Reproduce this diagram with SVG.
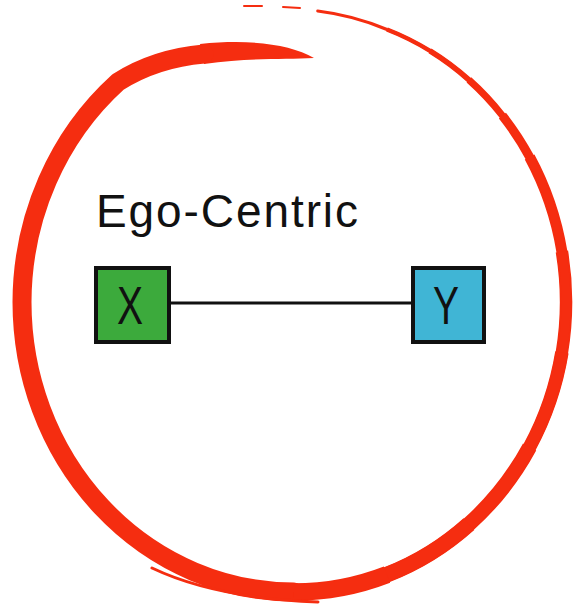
<svg xmlns="http://www.w3.org/2000/svg" width="573" height="608" viewBox="0 0 573 608">
  <style>
    .brush { fill: none; stroke: #f52d10; stroke-linecap: butt; stroke-linejoin: round; }
    .round { stroke-linecap: round; }
    .box { stroke: #111; stroke-width: 4; }
    .lbl { font-family: "Liberation Sans", Arial, sans-serif; fill: #111; }
  </style>
  <defs>
    <path id="r1" d="M294,592 A272,290 0 0 0 387,574.6"/>
  </defs>
  <rect width="573" height="608" fill="#ffffff"/>
  <g id="circle">
    <path d="M314,58 C290,44 250,39 200,44 L204,64 C250,57 285,60 314,58 Z" fill="#f52d10"/>
    <path class="brush round" stroke-width="19" d="M204,54 C170,57 140,68 118,82 A272,290 0 0 0 22,302 A272,290 0 0 0 294,592"/>
    <path class="brush" stroke-width="17.5" d="M288,592 L294,592 A272,290 0 0 0 387,574.6"/>
    <path class="brush" stroke-width="16" d="M294,592 A272,290 0 0 0 387,574.6 A272,290 0 0 0 468.9,524.1"/>
    <path class="brush" stroke-width="15" d="M294,592 A272,290 0 0 0 387,574.6 A272,290 0 0 0 468.9,524.1 A272,290 0 0 0 529.6,447"/>
    <path class="brush" stroke-width="13.5" d="M387,574.6 A272,290 0 0 0 468.9,524.1 A272,290 0 0 0 529.6,447 A272,290 0 0 0 561.9,352.4"/>
    <path class="brush" stroke-width="12.5" d="M468.9,524.1 A272,290 0 0 0 529.6,447 A272,290 0 0 0 561.9,352.4 A272,290 0 0 0 561.9,251.6"/>
    <path class="brush" stroke-width="11" d="M529.6,447 A272,290 0 0 0 561.9,352.4 A272,290 0 0 0 561.9,251.6 A272,290 0 0 0 529.6,157"/>
    <path class="brush" stroke-width="9" d="M561.9,352.4 A272,290 0 0 0 561.9,251.6 A272,290 0 0 0 529.6,157 A272,290 0 0 0 502.4,115.6"/>
    <path class="brush" stroke-width="7" d="M561.9,251.6 A272,290 0 0 0 529.6,157 A272,290 0 0 0 502.4,115.6 A272,290 0 0 0 468.9,79.9"/>
    <path class="brush" stroke-width="5.5" d="M529.6,157 A272,290 0 0 0 502.4,115.6 A272,290 0 0 0 468.9,79.9 A272,290 0 0 0 430,50.9"/>
    <path class="brush" stroke-width="4.5" d="M502.4,115.6 A272,290 0 0 0 468.9,79.9 A272,290 0 0 0 430,50.9 A272,290 0 0 0 387,29.5"/>
    <path class="brush round" stroke-width="3" d="M468.9,79.9 A272,290 0 0 0 430,50.9 A272,290 0 0 0 387,29.5 A272,290 0 0 0 317.7,11"/>
    <path class="brush round" stroke-width="2" d="M300,8 L283,7"/>
    <path class="brush round" stroke-width="2" d="M262,6 L244,6"/>
    <path class="brush round" stroke-width="3" d="M152,568 Q215,598 318,602"/>
  </g>
  <text id="title" class="lbl" x="96" y="227" font-size="46" textLength="262" lengthAdjust="spacing" fill="#1a1a1a">Ego-Centric</text>
  <g id="connectors">
    <line x1="170" y1="303" x2="412" y2="303" stroke="#111" stroke-width="3"/>
  </g>
  <g id="node-x">
    <rect class="box" x="96" y="268" width="73" height="74" fill="#3caa3c"/>
    <text class="lbl" x="117" y="324" font-size="54" textLength="26" lengthAdjust="spacingAndGlyphs">X</text>
  </g>
  <g id="node-y">
    <rect class="box" x="413" y="268" width="71" height="74" fill="#40b5d5"/>
    <text class="lbl" x="433" y="324" font-size="54" textLength="26" lengthAdjust="spacingAndGlyphs">Y</text>
  </g>
</svg>
